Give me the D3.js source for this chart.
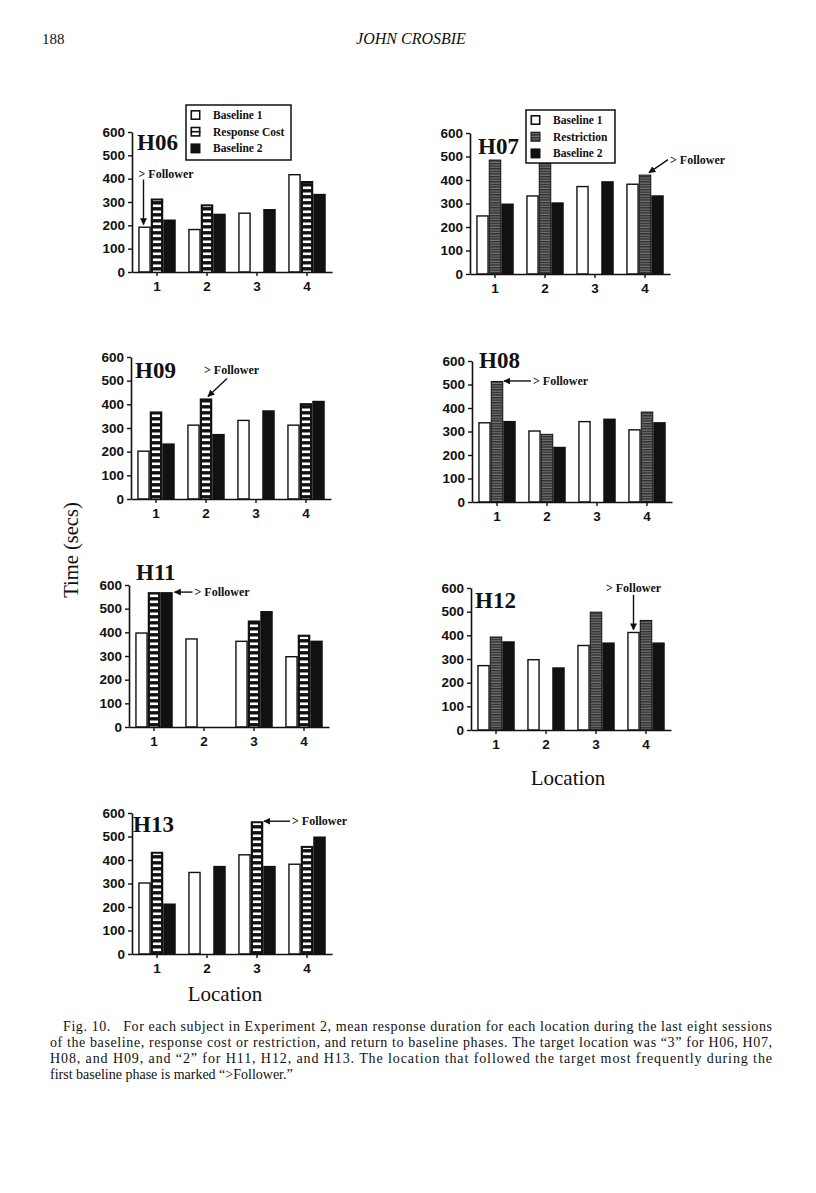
<!DOCTYPE html>
<html><head><meta charset="utf-8">
<script src="https://cdn.jsdelivr.net/npm/d3@7"></script>
<style>body{margin:0;background:#fff} svg{display:block}</style>
</head><body><svg id="c" width="816" height="1193"></svg>
<script>
// ---------- data ----------
const locations = [1, 2, 3, 4];
const yTickValues = [0, 100, 200, 300, 400, 500, 600];

const h06Baseline1 = [195, 185, 255, 420];
const h06ResponseCost = [315, 290, null, 390];
const h06Baseline2 = [225, 250, 270, 335];

const h07Baseline1 = [250, 335, 375, 385];
const h07Restriction = [487, 480, null, 423];
const h07Baseline2 = [300, 305, 395, 335];

const h09Baseline1 = [205, 315, 335, 315];
const h09ResponseCost = [370, 425, null, 405];
const h09Baseline2 = [235, 275, 375, 415];

const h08Baseline1 = [340, 305, 345, 310];
const h08Restriction = [515, 290, null, 385];
const h08Baseline2 = [345, 235, 355, 340];

const h11Baseline1 = [400, 375, 365, 300];
const h11ResponseCost = [570, null, 450, 390];
const h11Baseline2 = [570, null, 490, 365];

const h12Baseline1 = [275, 300, 360, 415];
const h12Restriction = [395, null, 500, 465];
const h12Baseline2 = [375, 265, 370, 370];

const h13Baseline1 = [305, 350, 425, 385];
const h13ResponseCost = [435, null, 565, 460];
const h13Baseline2 = [215, 375, 375, 500];

const legendRC = ["Baseline 1", "Response Cost", "Baseline 2"];
const legendRestr = ["Baseline 1", "Restriction", "Baseline 2"];
const followerLabel = "> Follower";

// ---------- layout ----------
const panels = [
  {name:"H06", x0:132, y0:272, top:132, kind:"rc", data:[h06Baseline1,h06ResponseCost,h06Baseline2], title:[137,150],
   legend:{x:186,y:105,w:105,h:55,labels:legendRC},
   fol:{loc:1,s:0,from:[-1,-47],to:[-1,-2],text:[-6,-49],anchor:"start"}},
  {name:"H07", x0:470, y0:274, top:133, kind:"restr", data:[h07Baseline1,h07Restriction,h07Baseline2], title:[478,154],
   legend:{x:526,y:110,w:89,h:53,labels:legendRestr},
   fol:{loc:4,s:1,from:[23,-15],to:[4,-2],text:[25,-11],anchor:"start"}},
  {name:"H09", x0:131, y0:499, top:357, kind:"rc", data:[h09Baseline1,h09ResponseCost,h09Baseline2], title:[135,378],
   fol:{loc:2,s:1,from:[21,-20],to:[2,-2],text:[-2,-24],anchor:"start"}},
  {name:"H08", x0:472, y0:502, top:361, kind:"restr", data:[h08Baseline1,h08Restriction,h08Baseline2], title:[479,368],
   fol:{loc:1,s:1,from:[34,0],to:[7,0],text:[36,4],anchor:"start"}},
  {name:"H11", x0:129, y0:727, top:585, kind:"rc", data:[h11Baseline1,h11ResponseCost,h11Baseline2], title:[136,580],
   fol:{loc:1,s:2,from:[26,0],to:[8,0],text:[28,4],anchor:"start"}},
  {name:"H12", x0:471, y0:730, top:588, kind:"restr", data:[h12Baseline1,h12Restriction,h12Baseline2], title:[475,608],
   fol:{loc:4,s:0,from:[0,-37],to:[0,-2],text:[0,-40],anchor:"middle"}},
  {name:"H13", x0:132, y0:954, top:813, kind:"rc", data:[h13Baseline1,h13ResponseCost,h13Baseline2], title:[133,832],
   fol:{loc:3,s:1,from:[33,0],to:[7,0],text:[35,4],anchor:"start"}}
];

const svg = d3.select("#c");
const serif = "'Liberation Serif','Times New Roman',serif";
const sans = "'Liberation Sans',Arial,sans-serif";
const ink = "#111";

// ---------- defs ----------
const defs = svg.append("defs");
const rcPat = defs.append("pattern").attr("id","rcStripes").attr("patternUnits","userSpaceOnUse")
  .attr("width",10).attr("height",6);
rcPat.append("rect").attr("x",0).attr("y",0.5).attr("width",10).attr("height",2.6).attr("fill","#fff");
const rPat = defs.append("pattern").attr("id","restrPat").attr("patternUnits","userSpaceOnUse")
  .attr("width",10).attr("height",2.6);
rPat.append("rect").attr("width",10).attr("height",2.6).attr("fill","#2e2e2e");
rPat.append("rect").attr("y",0.6).attr("width",10).attr("height",0.9).attr("fill","#8c8c8c");
defs.append("marker").attr("id","ah").attr("viewBox","0 0 10 10").attr("refX",9).attr("refY",5)
  .attr("markerWidth",7).attr("markerHeight",7).attr("markerUnits","userSpaceOnUse").attr("orient","auto")
  .append("path").attr("d","M0,0 L10,5 L0,10 Z").attr("fill",ink);

function drawBar(g, type, x, y, w, h) {
  if (type === "white") {
    g.append("rect").attr("x",x+0.7).attr("y",y+0.7).attr("width",w-1.4).attr("height",Math.max(0,h-0.7))
      .attr("fill","#fff").attr("stroke",ink).attr("stroke-width",1.4);
  } else if (type === "black") {
    g.append("rect").attr("x",x).attr("y",y).attr("width",w).attr("height",h).attr("fill",ink);
  } else if (type === "rc") {
    g.append("rect").attr("x",x).attr("y",y).attr("width",w).attr("height",h).attr("fill",ink);
    g.append("rect").attr("x",x+2.2).attr("y",y+2).attr("width",w-4.4).attr("height",Math.max(0,h-2))
      .attr("fill","url(#rcStripes)");
  } else {
    g.append("rect").attr("x",x+0.5).attr("y",y+0.5).attr("width",w-1).attr("height",h-0.5)
      .attr("fill","url(#restrPat)").attr("stroke",ink).attr("stroke-width",1);
  }
}

panels.forEach(p => {
  const g = svg.append("g");
  const y = d3.scaleLinear().domain([0,600]).range([p.y0, p.top]);
  const x = d3.scaleBand().domain(locations).range([p.x0, p.x0+200]);
  const inner = d3.scaleBand().domain([0,1,2]).range([0,37.5]);
  const off = (x.bandwidth() - 37.5) / 2;
  const types = ["white", p.kind, "black"];

  p.data.forEach((series, si) => {
    series.forEach((v, li) => {
      if (v == null) return;
      const bx = x(locations[li]) + off + inner(si);
      drawBar(g, types[si], bx, y(v), inner.bandwidth(), p.y0 - y(v));
    });
  });

  // axes
  const ya = g.append("g").attr("transform",`translate(${p.x0},0)`)
    .call(d3.axisLeft(y).tickValues(yTickValues).tickSize(4).tickSizeOuter(0).tickPadding(3));
  ya.select(".domain").attr("stroke",ink).attr("stroke-width",1.6);
  ya.selectAll(".tick line").attr("stroke",ink).attr("stroke-width",1.4);
  ya.selectAll("text").attr("font-family",sans).attr("font-weight","bold").attr("font-size",13.5).attr("fill",ink);

  const xa = g.append("g").attr("transform",`translate(0,${p.y0})`)
    .call(d3.axisBottom(x).tickSize(4).tickSizeOuter(0).tickPadding(5));
  xa.select(".domain").attr("stroke",ink).attr("stroke-width",1.6);
  xa.selectAll(".tick line").attr("stroke",ink).attr("stroke-width",1.4);
  xa.selectAll("text").attr("font-family",sans).attr("font-weight","bold").attr("font-size",13.5).attr("fill",ink);

  // title
  g.append("text").attr("x",p.title[0]).attr("y",p.title[1]).text(p.name)
    .attr("font-family",serif).attr("font-weight","bold").attr("font-size",23).attr("fill",ink);

  // legend
  if (p.legend) {
    const L = p.legend;
    const lg = g.append("g");
    lg.append("rect").attr("x",L.x).attr("y",L.y).attr("width",L.w).attr("height",L.h)
      .attr("fill","#fff").attr("stroke",ink).attr("stroke-width",1.5);
    L.labels.forEach((lab, i) => {
      const cy = L.y + 10 + i * 16.7;
      const sx = L.x + 4.5, s = 10;
      if (types[i] === "white") {
        lg.append("rect").attr("x",sx+0.8).attr("y",cy-s/2+0.8).attr("width",s-1.6).attr("height",s-1.6)
          .attr("fill","#fff").attr("stroke",ink).attr("stroke-width",1.6);
      } else if (types[i] === "black") {
        lg.append("rect").attr("x",sx).attr("y",cy-s/2).attr("width",s).attr("height",s).attr("fill",ink);
      } else if (types[i] === "rc") {
        lg.append("rect").attr("x",sx+0.8).attr("y",cy-s/2+0.8).attr("width",s-1.6).attr("height",s-1.6)
          .attr("fill","#fff").attr("stroke",ink).attr("stroke-width",1.6);
        lg.append("line").attr("x1",sx).attr("x2",sx+s).attr("y1",cy).attr("y2",cy).attr("stroke",ink).attr("stroke-width",1.6);
      } else {
        lg.append("rect").attr("x",sx+0.5).attr("y",cy-s/2+0.5).attr("width",s-1).attr("height",s-1)
          .attr("fill","url(#restrPat)").attr("stroke",ink).attr("stroke-width",1);
      }
      lg.append("text").attr("x",sx+s+12.5).attr("y",cy+4).text(lab)
        .attr("font-family",serif).attr("font-weight","bold").attr("font-size",11.5).attr("fill",ink);
    });
  }

  // follower annotation
  const f = p.fol;
  const fv = p.data[f.s][f.loc-1];
  const cx = x(f.loc) + off + inner(f.s) + inner.bandwidth()/2;
  const cy = y(fv);
  g.append("line").attr("x1",cx+f.from[0]).attr("y1",cy+f.from[1]).attr("x2",cx+f.to[0]).attr("y2",cy+f.to[1])
    .attr("stroke",ink).attr("stroke-width",1.4).attr("marker-end","url(#ah)");
  g.append("text").attr("x",cx+f.text[0]).attr("y",cy+f.text[1]).attr("text-anchor",f.anchor).text(followerLabel)
    .attr("font-family",serif).attr("font-weight","bold").attr("font-size",12).attr("fill",ink);
});

// axis titles
svg.append("text").attr("transform","translate(78,550) rotate(-90)").attr("text-anchor","middle")
  .text("Time (secs)").attr("font-family",serif).attr("font-size",20.5).attr("fill",ink);
svg.append("text").attr("x",568).attr("y",785).attr("text-anchor","middle")
  .text("Location").attr("font-family",serif).attr("font-size",21).attr("fill",ink);
svg.append("text").attr("x",225).attr("y",1001).attr("text-anchor","middle")
  .text("Location").attr("font-family",serif).attr("font-size",21).attr("fill",ink);

// header
svg.append("text").attr("x",42).attr("y",44).text("188")
  .attr("font-family",serif).attr("font-size",15).attr("fill",ink);
svg.append("text").attr("x",411).attr("y",44).attr("text-anchor","middle").text("JOHN CROSBIE")
  .attr("font-family",serif).attr("font-style","italic").attr("font-size",16).attr("fill",ink);

// caption
const captionLines = [
  {t:"Fig. 10.   For each subject in Experiment 2, mean response duration for each location during the last eight sessions", x:63, just:true},
  {t:"of the baseline, response cost or restriction, and return to baseline phases. The target location was \u201c3\u201d for H06, H07,", x:50, just:true},
  {t:"H08, and H09, and \u201c2\u201d for H11, H12, and H13. The location that followed the target most frequently during the", x:50, just:true},
  {t:"first baseline phase is marked \u201c>Follower.\u201d", x:50, just:false}
];
captionLines.forEach((l, i) => {
  const t = svg.append("text").attr("x",l.x).attr("y",1031 + i*16).text(l.t)
    .attr("font-family",serif).attr("font-size",14).attr("fill",ink).style("white-space","pre");
  if (l.just) t.attr("textLength",772-l.x).attr("lengthAdjust","spacing");
});
</script>
</body></html>
